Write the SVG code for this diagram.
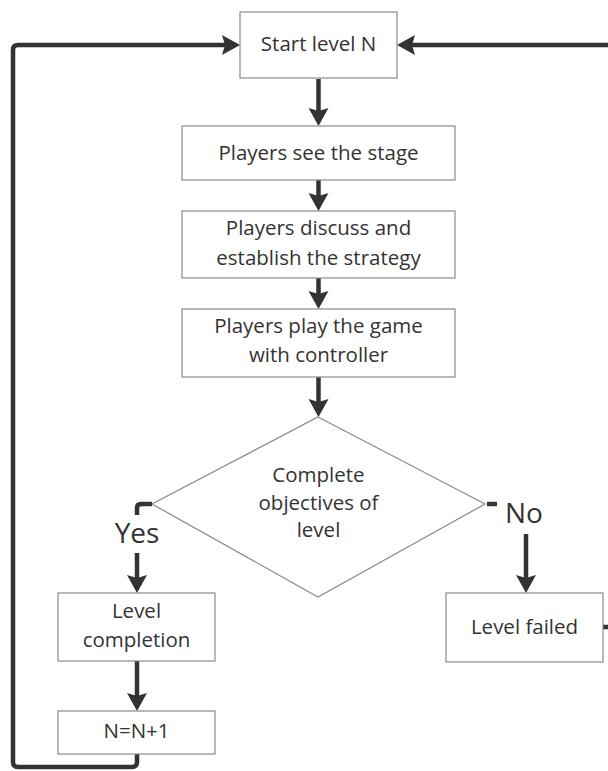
<svg xmlns="http://www.w3.org/2000/svg" width="608" height="771" viewBox="0 0 608 771">
<defs>
<style>
.box{fill:#fff;stroke:#8a8a8a;stroke-width:1.2}
.t{font-family:"Open Sans","Noto Sans","DejaVu Sans",sans-serif;font-size:20.5px;fill:#333;text-anchor:middle}
.lbl{font-family:"Open Sans","Noto Sans","DejaVu Sans",sans-serif;font-size:28px;fill:#333;text-anchor:middle}
.c{fill:none;stroke:#333;stroke-width:4.5}
.a{fill:none;stroke:#333;stroke-width:4.5;marker-end:url(#ah)}
</style>
<marker id="ah" markerUnits="userSpaceOnUse" markerWidth="20" markerHeight="22" refX="8" refY="11" orient="auto">
<path d="M0,1 L18,11 L0,21 L3,11 z" fill="#333"/>
</marker>
</defs>
<rect width="608" height="771" fill="#fff"/>
<g id="connectors">
<line class="a" x1="318.5" y1="79" x2="318.5" y2="116"/>
<line class="a" x1="318.5" y1="180" x2="318.5" y2="201"/>
<line class="a" x1="318.5" y1="278" x2="318.5" y2="299"/>
<line class="a" x1="318.5" y1="377" x2="318.5" y2="407"/>
<path class="c" d="M152,504 H141 Q137,504 137,508 V515"/>
<line class="a" x1="137" y1="553" x2="137" y2="583"/>
<line class="c" x1="487" y1="504" x2="497" y2="504"/>
<line class="a" x1="526" y1="534" x2="526" y2="583"/>
<line class="a" x1="137" y1="661" x2="137" y2="701"/>
<path class="a" d="M137,754 V762 Q137,767 132,767 H18 Q13,767 13,762 V50 Q13,45 18,45 H230"/>
<line class="a" x1="608" y1="45" x2="407" y2="45"/>
<line class="c" x1="603" y1="627" x2="608" y2="627"/>
<text class="lbl" x="137" y="543">Yes</text>
<text class="lbl" x="524" y="523">No</text>
</g>
<g id="start">
<rect class="box" x="240" y="12" width="157" height="66"/>
<text class="t" x="318.5" y="51">Start level N</text>
</g>
<g id="see">
<rect class="box" x="182" y="126" width="273" height="54"/>
<text class="t" x="318.5" y="160">Players see the stage</text>
</g>
<g id="discuss">
<rect class="box" x="182" y="211" width="273" height="67"/>
<text class="t" x="318.5" y="235">Players discuss and</text>
<text class="t" x="318.5" y="265">establish the strategy</text>
</g>
<g id="play">
<rect class="box" x="182" y="309" width="273" height="68"/>
<text class="t" x="318.5" y="333">Players play the game</text>
<text class="t" x="318.5" y="362">with controller</text>
</g>
<g id="decision">
<polygon class="box" points="318,417 485,504 318,597 152,504"/>
<text class="t" x="318.5" y="482">Complete</text>
<text class="t" x="318.5" y="510">objectives of</text>
<text class="t" x="318.5" y="537">level</text>
</g>
<g id="completion">
<rect class="box" x="58" y="593" width="157" height="68"/>
<text class="t" x="136.5" y="618">Level</text>
<text class="t" x="136.5" y="647">completion</text>
</g>
<g id="failed">
<rect class="box" x="446" y="593" width="157" height="69"/>
<text class="t" x="524.5" y="634">Level failed</text>
</g>
<g id="inc">
<rect class="box" x="58" y="711" width="157" height="43"/>
<text class="t" x="136.5" y="738">N=N+1</text>
</g>
</svg>
